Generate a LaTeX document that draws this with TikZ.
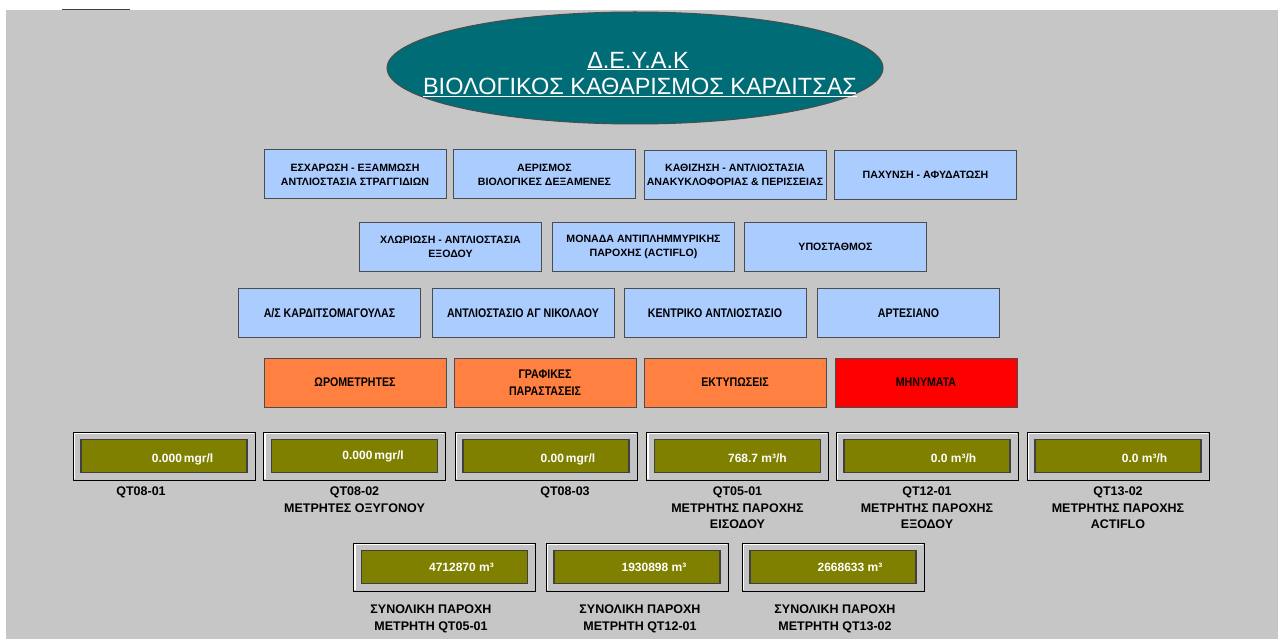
\documentclass[tikz,border=0pt]{standalone}
\usepackage{fontspec}
\setmainfont{Liberation Sans}
\newfontfamily\narrowfont[FakeStretch=0.85]{Liberation Sans}
\usetikzlibrary{shapes.geometric}
\definecolor{bggray}{RGB}{198,198,198}
\definecolor{tealc}{RGB}{0,108,118}
\definecolor{btnblue}{RGB}{170,204,255}
\definecolor{btnorange}{RGB}{255,128,64}
\definecolor{btnred}{RGB}{255,0,0}
\definecolor{olivec}{RGB}{128,128,0}
\definecolor{framegray}{RGB}{196,196,196}
\tikzset{
  btn/.style={draw=black!70, line width=1pt, fill=btnblue, minimum width=182pt, minimum height=49pt,
    inner sep=0pt, align=center, text=black, font=\fontsize{10.6}{14}\selectfont\bfseries},
  btnnarrow/.style={btn, font=\narrowfont\fontsize{12.5}{17}\selectfont\bfseries},
  orangebtn/.style={btnnarrow, fill=btnorange},
  redbtn/.style={btnnarrow, fill=btnred},
  meterframe/.style={draw=black, line width=1pt, fill=framegray, minimum width=182pt, minimum height=48pt, inner sep=0pt},
  meterscreen/.style={draw=black!75, line width=1.2pt, fill=olivec, minimum width=166pt, minimum height=33pt, inner sep=0pt},
  metertext/.style={text=white, font=\fontsize{12}{14}\selectfont\bfseries, inner sep=0pt, anchor=east},
  lbl/.style={align=center, font=\fontsize{12.5}{16.5}\selectfont\bfseries, text=black, inner sep=0pt, anchor=north}
}
\newcommand{\meterbox}[5]{% name, center x, center y, text, text yshift
  \node[meterframe] (#1) at (#2,#3) {};
  \draw[white, line width=1.2pt] ([xshift=2pt,yshift=2pt]#1.south west) -- ([xshift=2pt,yshift=-2pt]#1.north west) -- ([xshift=-2pt,yshift=-2pt]#1.north east);
  \node[meterscreen] (#1s) at (#2,#3) {};
  \node[metertext] (#1t) at ([xshift=-42pt,yshift=#5]#1.east) {#4};
}
\begin{document}
\begin{tikzpicture}[x=1pt,y=-1pt]
\useasboundingbox (0,0) rectangle (1278,639);
\fill[white] (0,0) rectangle (1278,639);
\fill[bggray] (6,10) rectangle (1278,639);
\draw[black!75, line width=1pt] (62,9.5) -- (130,9.5);

% title ellipse
\node[ellipse, draw=black!70, line width=1pt, fill=tealc, minimum width=496pt, minimum height=112pt, inner sep=0pt] (title) at (635,68) {};
\node[text=white, font=\fontsize{23.5}{25}\selectfont, inner sep=0pt] (t1) at (638,61) {\underline{Δ.Ε.Υ.Α.Κ}};
\node[text=white, font=\fontsize{23.5}{25}\selectfont, inner sep=0pt] (t2) at (640,87) {\underline{ΒΙΟΛΟΓΙΚΟΣ ΚΑΘΑΡΙΣΜΟΣ ΚΑΡΔΙΤΣΑΣ}};

% row 1
\node[btn] (b1) at (355,174.5) {ΕΣΧΑΡΩΣΗ - ΕΞΑΜΜΩΣΗ\\ΑΝΤΛΙΟΣΤΑΣΙΑ ΣΤΡΑΓΓΙΔΙΩΝ};
\node[btn] (b2) at (544.5,174.5) {ΑΕΡΙΣΜΟΣ\\ΒΙΟΛΟΓΙΚΕΣ ΔΕΞΑΜΕΝΕΣ};
\node[btn] (b3) at (735,175) {ΚΑΘΙΖΗΣΗ - ΑΝΤΛΙΟΣΤΑΣΙΑ\\ΑΝΑΚΥΚΛΟΦΟΡΙΑΣ \& ΠΕΡΙΣΣΕΙΑΣ};
\node[btn] (b4) at (925.5,175) {ΠΑΧΥΝΣΗ - ΑΦΥΔΑΤΩΣΗ};

% row 2
\node[btn] (c1) at (450.5,247) {ΧΛΩΡΙΩΣΗ - ΑΝΤΛΙΟΣΤΑΣΙΑ\\ΕΞΟΔΟΥ};
\node[btn] (c2) at (643.5,247) {ΜΟΝΑΔΑ ΑΝΤΙΠΛΗΜΜΥΡΙΚΗΣ\\ΠΑΡΟΧΗΣ (ACTIFLO)};
\node[btn] (c3) at (835.5,247) {ΥΠΟΣΤΑΘΜΟΣ};

% row 3
\node[btnnarrow] (d1) at (329.5,313) {Α/Σ ΚΑΡΔΙΤΣΟΜΑΓΟΥΛΑΣ};
\node[btnnarrow] (d2) at (523,313) {ΑΝΤΛΙΟΣΤΑΣΙΟ ΑΓ ΝΙΚΟΛΑΟΥ};
\node[btnnarrow] (d3) at (715,313) {ΚΕΝΤΡΙΚΟ ΑΝΤΛΙΟΣΤΑΣΙΟ};
\node[btnnarrow] (d4) at (908.5,313) {ΑΡΤΕΣΙΑΝΟ};

% row 4
\node[orangebtn] (e1) at (355,382.5) {ΩΡΟΜΕΤΡΗΤΕΣ};
\node[orangebtn] (e2) at (545,382.5) {ΓΡΑΦΙΚΕΣ\\ΠΑΡΑΣΤΑΣΕΙΣ};
\node[orangebtn] (e3) at (735,382.5) {ΕΚΤΥΠΩΣΕΙΣ};
\node[redbtn] (e4) at (926,382.5) {ΜΗΝΥΜΑΤΑ};

% meters
\meterbox{m1}{164}{456}{0.000\,mgr/l}{-3pt}
\meterbox{m2}{354.5}{456}{0.000\,mgr/l}{0pt}
\meterbox{m3}{546}{456}{0.00\,mgr/l}{-3pt}
\meterbox{m4}{737.5}{456}{768.7 m³/h}{-2pt}
\meterbox{m5}{927}{456}{0.0 m³/h}{-2pt}
\meterbox{m6}{1118}{456}{0.0 m³/h}{-2pt}

\node[lbl] (l1) at (141,487) {QT08-01};
\node[lbl] (l2) at (354.5,487) {QT08-02\\ΜΕΤΡΗΤΕΣ ΟΞΥΓΟΝΟΥ};
\node[lbl] (l3) at (565,487) {QT08-03};
\node[lbl] (l4) at (737.5,487) {QT05-01\\ΜΕΤΡΗΤΗΣ ΠΑΡΟΧΗΣ\\ΕΙΣΟΔΟΥ};
\node[lbl] (l5) at (927,487) {QT12-01\\ΜΕΤΡΗΤΗΣ ΠΑΡΟΧΗΣ\\ΕΞΟΔΟΥ};
\node[lbl] (l6) at (1118,487) {QT13-02\\ΜΕΤΡΗΤΗΣ ΠΑΡΟΧΗΣ\\ACTIFLO};

% totals
\meterbox{n1}{444.5}{567}{4712870 m³}{0pt}
\meterbox{n2}{637}{567}{1930898 m³}{0pt}
\meterbox{n3}{833}{567}{2668633 m³}{0pt}

\node[lbl] (k1) at (431,605) {ΣΥΝΟΛΙΚΗ ΠΑΡΟΧΗ\\ΜΕΤΡΗΤΗ QT05-01};
\node[lbl] (k2) at (640,605) {ΣΥΝΟΛΙΚΗ ΠΑΡΟΧΗ\\ΜΕΤΡΗΤΗ QT12-01};
\node[lbl] (k3) at (835,605) {ΣΥΝΟΛΙΚΗ ΠΑΡΟΧΗ\\ΜΕΤΡΗΤΗ QT13-02};
\end{tikzpicture}
\end{document}
